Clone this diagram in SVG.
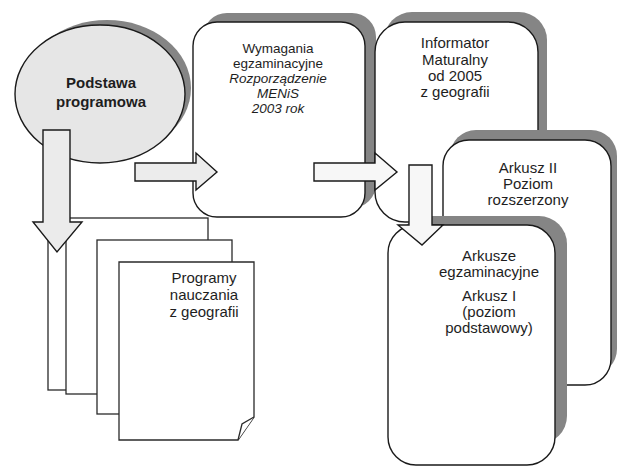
<svg xmlns="http://www.w3.org/2000/svg" width="617" height="467" viewBox="0 0 617 467">
<style>
.t{font-family:"Liberation Sans",Arial,sans-serif;font-size:15px;fill:#1e1e1e;text-anchor:middle}
.s{font-size:13.5px}
.b{font-weight:bold}
.i{font-style:italic}
.box{fill:#fff;stroke:#1a1a1a;stroke-width:1.4}
.sh{fill:#858585}
.page{fill:#fff;stroke:#2a2a2a;stroke-width:1.3}
.arr{stroke:#1a1a1a;stroke-width:1.4;stroke-linejoin:miter}
</style>
<rect width="617" height="467" fill="#fff"/>

<g id="programy">
  <rect class="page" x="48" y="230" width="132" height="160"/>
  <rect class="page" x="66" y="218" width="142" height="176"/>
  <rect class="page" x="97" y="240" width="135" height="174"/>
  <path class="page" d="M119,262 H254 V417 L238,440 H119 Z"/>
  <path class="page" d="M254,417 L242,424 L238,440"/>
  <text class="t" x="204" y="283">Programy</text>
  <text class="t" x="204" y="300">nauczania</text>
  <text class="t" x="204" y="317">z geografii</text>
</g>

<g id="podstawa">
  <ellipse class="sh" cx="107" cy="88" rx="84" ry="68"/>
  <ellipse cx="100" cy="94" rx="85" ry="69" fill="#e6e6e6" stroke="#1a1a1a" stroke-width="1.4"/>
  <text class="t b" x="101" y="88">Podstawa</text>
  <text class="t b" x="101" y="107">programowa</text>
</g>

<g id="wymagania">
  <rect class="sh" x="203" y="13" width="173" height="195" rx="24"/>
  <rect class="box" x="193" y="22" width="172" height="195" rx="24"/>
  <text class="t s" x="278" y="53">Wymagania</text>
  <text class="t s" x="278" y="68">egzaminacyjne</text>
  <text class="t s i" x="278" y="83">Rozporządzenie</text>
  <text class="t s i" x="278" y="98">MENiS</text>
  <text class="t s i" x="278" y="113">2003 rok</text>
</g>

<g id="informator">
  <rect class="sh" x="384" y="12" width="163" height="200" rx="28"/>
  <rect class="box" x="375" y="22" width="163" height="200" rx="30"/>
  <text class="t" x="455" y="48">Informator</text>
  <text class="t" x="455" y="65">Maturalny</text>
  <text class="t" x="455" y="81">od 2005</text>
  <text class="t" x="455" y="97">z geografii</text>
</g>

<g id="arkusz2">
  <rect class="sh" x="450" y="130" width="167" height="245" rx="26"/>
  <rect class="box" x="443" y="140" width="168" height="245" rx="26"/>
  <text class="t" x="528" y="173">Arkusz II</text>
  <text class="t" x="528" y="189">Poziom</text>
  <text class="t" x="528" y="205">rozszerzony</text>
</g>

<g id="arkusze">
  <rect class="sh" x="399" y="216" width="168" height="228" rx="28"/>
  <rect class="box" x="388" y="225" width="167" height="240" rx="28"/>
  <text class="t" x="489" y="261">Arkusze</text>
  <text class="t" x="489" y="277">egzaminacyjne</text>
  <text class="t" x="489" y="301">Arkusz I</text>
  <text class="t" x="489" y="317">(poziom</text>
  <text class="t" x="489" y="333">podstawowy)</text>
</g>

<g id="connectors">
  <polygon class="arr" fill="#ebebeb" points="43,130 70,130 70,222 82,222 57,252 33,222 43,222"/>
  <polygon class="arr" fill="#ececec" points="135,163 196,163 196,153 217,172 196,190 196,181 135,181"/>
  <polygon class="arr" fill="#f7f7f7" points="314,163 375,163 375,153 397,172 375,190 375,181 314,181"/>
  <polygon class="arr" fill="#f7f7f7" points="409,165 432,165 432,225 443,225 422,245 398,225 409,225"/>
</g>
</svg>
